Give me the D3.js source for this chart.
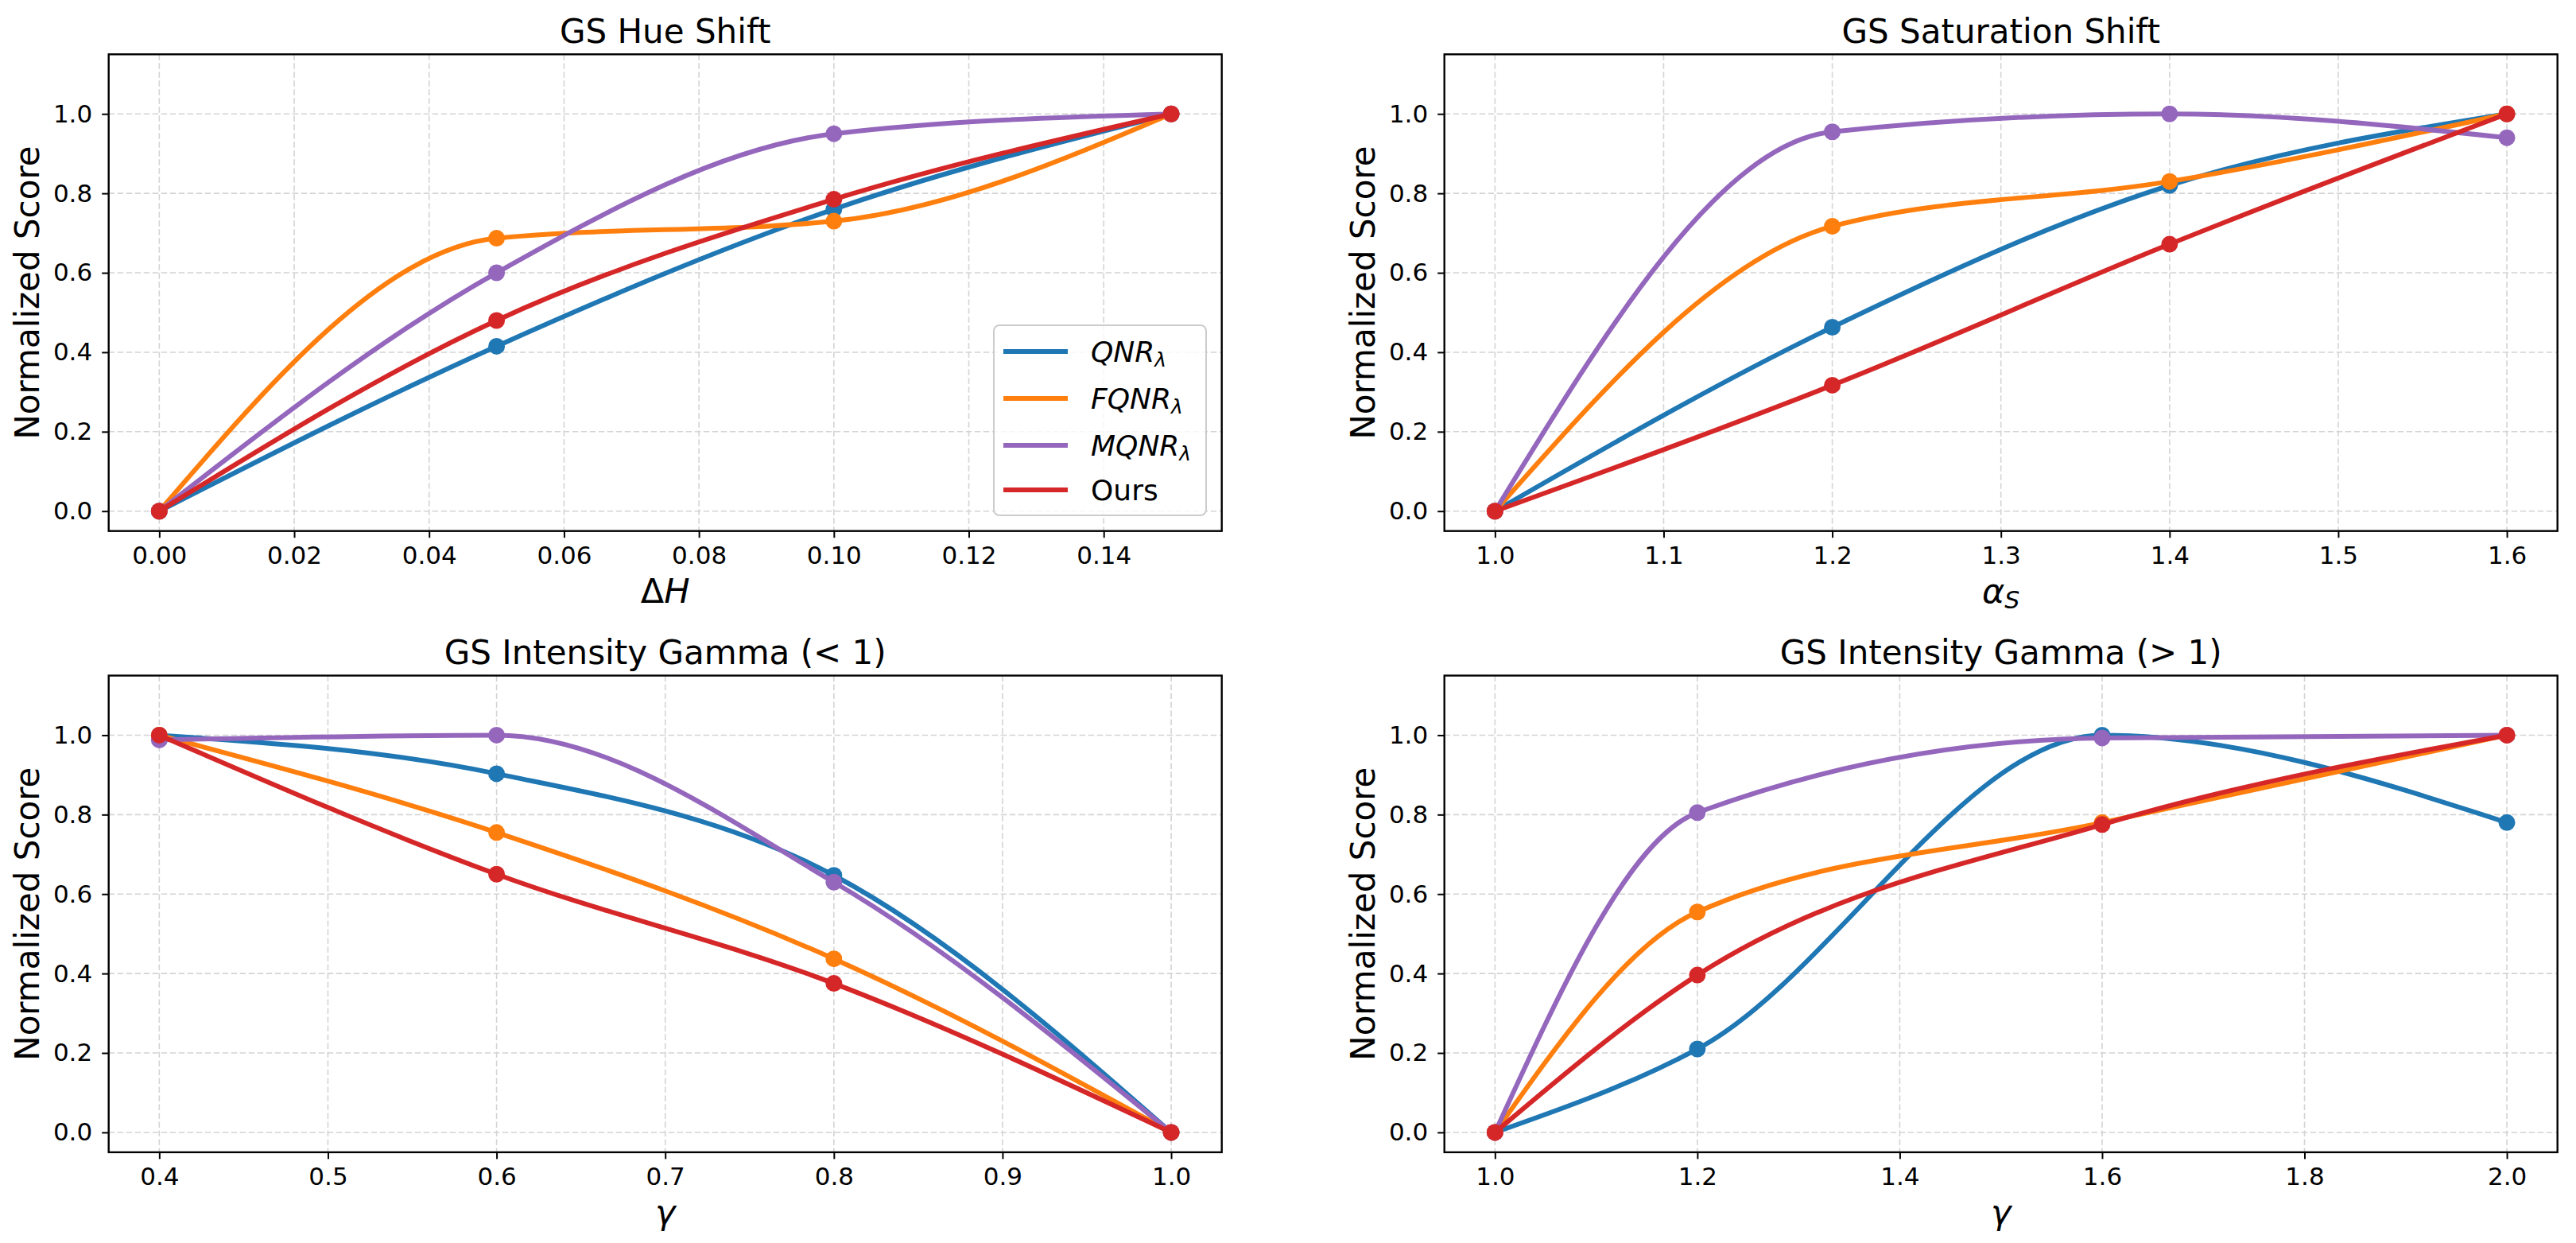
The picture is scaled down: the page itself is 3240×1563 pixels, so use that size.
<!DOCTYPE html>
<html>
<head>
<meta charset="utf-8">
<script src="https://cdn.jsdelivr.net/npm/d3@7"></script>
<style>
  body { margin: 0; background: #fff; }
  svg { display: block; font-family: 'DejaVu Sans', sans-serif; }
</style>
</head>
<body>
<div id="chart"></div>
<script>
// --- data ---
const seriesNames = ['QNR', 'FQNR', 'MQNR', 'Ours'];
const seriesColors = ['#1f77b4', '#ff7f0e', '#9467bd', '#d62728'];

// GS Hue Shift
const hueX = [0, 0.05, 0.10, 0.15];
const hueQnr = [0, 0.415, 0.76, 1.0];
const hueFqnr = [0, 0.687, 0.73, 1.0];
const hueMqnr = [0, 0.60, 0.95, 1.0];
const hueOurs = [0, 0.48, 0.785, 1.0];

// GS Saturation Shift
const satX = [1.0, 1.2, 1.4, 1.6];
const satQnr = [0, 0.463, 0.82, 1.0];
const satFqnr = [0, 0.717, 0.83, 1.0];
const satMqnr = [0, 0.955, 1.0, 0.94];
const satOurs = [0, 0.317, 0.672, 1.0];

// GS Intensity Gamma (< 1)
const gammaLowX = [0.4, 0.6, 0.8, 1.0];
const gammaLowQnr = [1.0, 0.903, 0.647, 0];
const gammaLowFqnr = [1.0, 0.755, 0.437, 0];
const gammaLowMqnr = [0.988, 1.0, 0.63, 0];
const gammaLowOurs = [1.0, 0.65, 0.375, 0];

// GS Intensity Gamma (> 1)
const gammaHighX = [1.0, 1.2, 1.6, 2.0];
const gammaHighQnr = [0, 0.21, 1.0, 0.78];
const gammaHighFqnr = [0, 0.555, 0.78, 1.0];
const gammaHighMqnr = [0, 0.805, 0.993, 1.0];
const gammaHighOurs = [0, 0.396, 0.775, 1.0];

// tick labels
const hueTicks = [0, 0.02, 0.04, 0.06, 0.08, 0.10, 0.12, 0.14];
const satTicks = [1.0, 1.1, 1.2, 1.3, 1.4, 1.5, 1.6];
const gammaLowTicks = [0.4, 0.5, 0.6, 0.7, 0.8, 0.9, 1.0];
const gammaHighTicks = [1.0, 1.2, 1.4, 1.6, 1.8, 2.0];
const scoreTicks = [0, 0.2, 0.4, 0.6, 0.8, 1.0];

// --- layout ---
const W = 3240, H = 1563;
const PW = 1400, PH = 599.4;
const colX = [136.7, 1816.7];
const rowY = [68.3, 849.5];

const panels = [
  { title: 'GS Hue Shift', xs: hueX, ys: [hueQnr, hueFqnr, hueMqnr, hueOurs],
    ticks: hueTicks, fmt: '.2f', xlabel: 'dH', col: 0, row: 0, legend: true },
  { title: 'GS Saturation Shift', xs: satX, ys: [satQnr, satFqnr, satMqnr, satOurs],
    ticks: satTicks, fmt: '.1f', xlabel: 'aS', col: 1, row: 0 },
  { title: 'GS Intensity Gamma (< 1)', xs: gammaLowX, ys: [gammaLowQnr, gammaLowFqnr, gammaLowMqnr, gammaLowOurs],
    ticks: gammaLowTicks, fmt: '.1f', xlabel: 'g', col: 0, row: 1 },
  { title: 'GS Intensity Gamma (> 1)', xs: gammaHighX, ys: [gammaHighQnr, gammaHighFqnr, gammaHighMqnr, gammaHighOurs],
    ticks: gammaHighTicks, fmt: '.1f', xlabel: 'g', col: 1, row: 1 }
];

const svg = d3.select('#chart').append('svg')
  .attr('width', W)
  .attr('height', H);

svg.append('rect').attr('width', W).attr('height', H).attr('fill', '#fff');

function addXLabel(t, kind) {
  if (kind === 'dH') {
    t.append('tspan').text('Δ');
    t.append('tspan').attr('font-style', 'italic').text('H');
  } else if (kind === 'aS') {
    t.append('tspan').attr('font-style', 'italic').text('α');
    t.append('tspan').attr('font-style', 'italic').attr('font-size', '30px').attr('dy', 7).text('S');
  } else {
    t.append('tspan').attr('font-style', 'italic').text('γ');
  }
}

panels.forEach(p => {
  const lo = p.xs[0], hi = p.xs[p.xs.length - 1];
  const m = (hi - lo) * 0.05;
  const x = d3.scaleLinear().domain([lo - m, hi + m]).range([0, PW]);
  const y = d3.scaleLinear().domain([-0.05, 1.15]).range([PH, 0]);

  const g = svg.append('g')
    .attr('transform', `translate(${colX[p.col]},${rowY[p.row]})`);

  // dashed grid
  g.append('g').selectAll('line')
    .data(p.ticks)
    .enter().append('line')
    .attr('x1', d => x(d)).attr('x2', d => x(d))
    .attr('y1', 0).attr('y2', PH)
    .attr('stroke', '#d4d4d4').attr('stroke-width', 1.6)
    .attr('stroke-dasharray', '7.5,3.5');

  g.append('g').selectAll('line')
    .data(scoreTicks)
    .enter().append('line')
    .attr('x1', 0).attr('x2', PW)
    .attr('y1', d => y(d)).attr('y2', d => y(d))
    .attr('stroke', '#d4d4d4').attr('stroke-width', 1.6)
    .attr('stroke-dasharray', '7.5,3.5');

  // series
  const line = d3.line()
    .x((d, i) => x(p.xs[i]))
    .y(d => y(d))
    .curve(d3.curveMonotoneX);

  p.ys.forEach((vals, si) => {
    g.append('path')
      .datum(vals)
      .attr('d', line)
      .attr('fill', 'none')
      .attr('stroke', seriesColors[si])
      .attr('stroke-width', 6)
      .attr('stroke-linejoin', 'round')
      .attr('stroke-linecap', 'round');

    g.append('g').selectAll('circle')
      .data(vals)
      .enter().append('circle')
      .attr('cx', (d, i) => x(p.xs[i]))
      .attr('cy', d => y(d))
      .attr('r', 10.5)
      .attr('fill', seriesColors[si]);
  });

  // axes
  const xAxis = g.append('g')
    .attr('transform', `translate(0,${PH})`)
    .call(d3.axisBottom(x).tickValues(p.ticks).tickFormat(d3.format(p.fmt))
      .tickSize(8.5).tickPadding(10.5));

  const yAxis = g.append('g')
    .call(d3.axisLeft(y).tickValues(scoreTicks).tickFormat(d3.format('.1f'))
      .tickSize(8.5).tickPadding(12));

  [xAxis, yAxis].forEach(a => {
    a.select('.domain').remove();
    a.selectAll('.tick line').attr('stroke', '#000').attr('stroke-width', 2);
    a.selectAll('.tick text')
      .attr('font-family', 'DejaVu Sans')
      .attr('font-size', '31px')
      .attr('fill', '#000');
  });

  // spines
  g.append('rect')
    .attr('width', PW).attr('height', PH)
    .attr('fill', 'none')
    .attr('stroke', '#000')
    .attr('stroke-width', 2.4);

  // title
  g.append('text')
    .attr('x', PW / 2).attr('y', -14.3)
    .attr('text-anchor', 'middle')
    .attr('font-size', '42px')
    .text(p.title);

  // x label
  const xl = g.append('text')
    .attr('x', PW / 2).attr('y', PH + 90)
    .attr('text-anchor', 'middle')
    .attr('font-size', '43px');
  addXLabel(xl, p.xlabel);

  // y label
  g.append('text')
    .attr('transform', `translate(-88,${PH / 2}) rotate(-90)`)
    .attr('text-anchor', 'middle')
    .attr('font-size', '42px')
    .text('Normalized Score');

  if (p.legend) {
    const lg = g.append('g')
      .attr('transform', `translate(${1250 - colX[0]},${409 - rowY[0]})`);
    lg.append('rect')
      .attr('width', 267).attr('height', 239)
      .attr('rx', 7).attr('ry', 7)
      .attr('fill', '#fff').attr('fill-opacity', 0.8)
      .attr('stroke', '#cccccc').attr('stroke-width', 2);

    const rowsY = [33, 92, 151, 207];
    const item = lg.selectAll('.legend')
      .data(seriesNames)
      .enter().append('g')
      .attr('class', 'legend')
      .attr('transform', (d, i) => `translate(0,${rowsY[i]})`);

    item.append('line')
      .attr('x1', 12).attr('x2', 93)
      .attr('stroke', (d, i) => seriesColors[i])
      .attr('stroke-width', 6);

    item.each(function(d) {
      const t = d3.select(this).append('text')
        .attr('x', 122).attr('y', 13)
        .attr('font-size', '36px');
      if (d === 'Ours') {
        t.text(d);
      } else {
        t.append('tspan').attr('font-style', 'italic').text(d);
        t.append('tspan').attr('font-style', 'italic')
          .attr('font-size', '25px').attr('dy', 6).text('λ');
      }
    });
  }
});
</script>
</body>
</html>
